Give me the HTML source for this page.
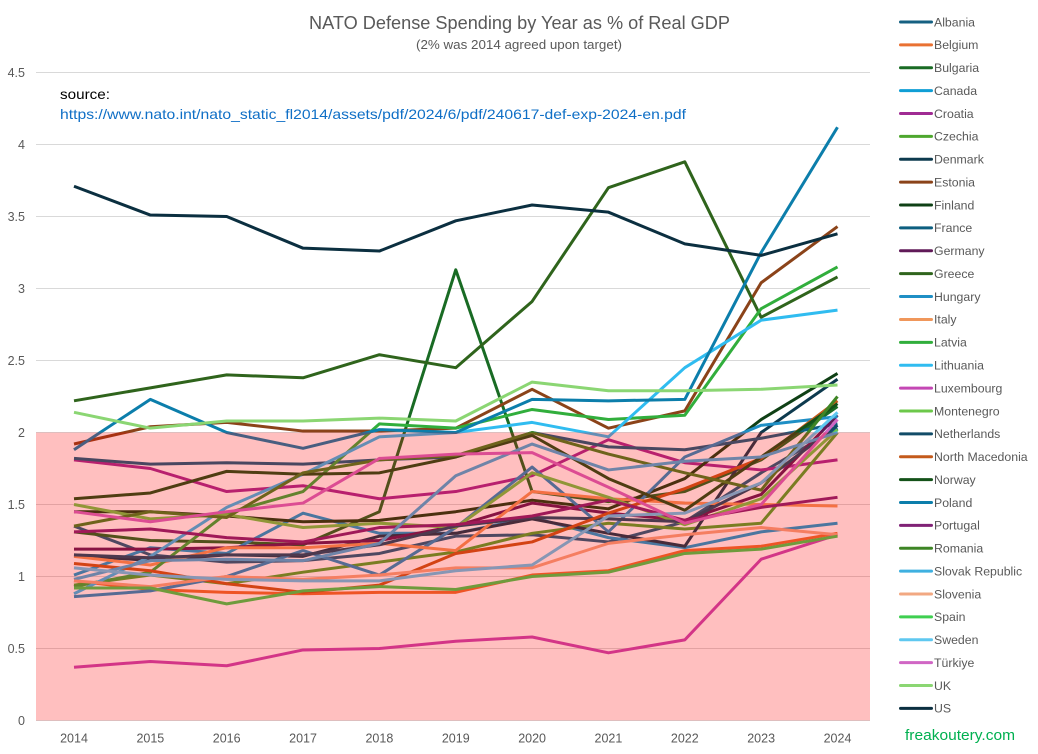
<!DOCTYPE html>
<html>
<head>
<meta charset="utf-8">
<title>NATO Defense Spending by Year</title>
<style>
html,body{margin:0;padding:0;background:#fff;}
svg{display:block;font-family:"Liberation Sans",sans-serif;}
</style>
</head>
<body>
<svg id="chart" width="1038" height="754" viewBox="0 0 1038 754" xmlns="http://www.w3.org/2000/svg">
  <rect x="0" y="0" width="1038" height="754" fill="#ffffff"/>
  <g id="grid"></g>
  <g id="lines"></g>
  <g id="band-layer"></g>
  <g id="ylabels"></g>
  <g id="xlabels"></g>
  <g id="legend"></g>
  <text x="519.5" y="29" text-anchor="middle" font-size="18" fill="#595959" textLength="421" lengthAdjust="spacingAndGlyphs">NATO Defense Spending by Year as % of Real GDP</text>
  <text x="519" y="49" text-anchor="middle" font-size="12.5" fill="#595959" textLength="206" lengthAdjust="spacingAndGlyphs">(2% was 2014 agreed upon target)</text>
  <text x="60" y="99" font-size="14" fill="#000000" textLength="50" lengthAdjust="spacingAndGlyphs">source:</text>
  <text x="60" y="119" font-size="14" fill="#0F6FC6" textLength="626" lengthAdjust="spacingAndGlyphs">https://www.nato.int/nato_static_fl2014/assets/pdf/2024/6/pdf/240617-def-exp-2024-en.pdf</text>
  <text x="905" y="740" font-size="14.5" fill="#00B050" textLength="110" lengthAdjust="spacingAndGlyphs">freakoutery.com</text>
</svg>
<script>
const years = [2014,2015,2016,2017,2018,2019,2020,2021,2022,2023,2024];
const yTicks = [0,0.5,1,1.5,2,2.5,3,3.5,4,4.5];
const targetLevel = [2];

const albania = [1.35,1.15,1.10,1.11,1.16,1.28,1.29,1.24,1.38,1.72,2.03];
const belgium = [0.97,0.91,0.89,0.88,0.89,0.89,1.01,1.04,1.18,1.21,1.30];
const bulgaria = [1.31,1.25,1.24,1.22,1.45,3.13,1.59,1.52,1.59,1.81,2.18];
const canada = [1.01,1.20,1.16,1.44,1.30,1.30,1.41,1.27,1.20,1.31,1.37];
const croatia = [1.81,1.75,1.59,1.63,1.54,1.59,1.70,1.95,1.79,1.74,1.81];
const czechia = [0.94,1.01,0.95,1.03,1.10,1.17,1.30,1.37,1.33,1.37,2.00];
const denmark = [1.15,1.11,1.15,1.14,1.28,1.30,1.40,1.30,1.21,2.00,2.37];
const estonia = [1.92,2.04,2.07,2.01,2.01,2.03,2.30,2.03,2.15,3.04,3.43];
const finland = [1.45,1.45,1.42,1.38,1.39,1.45,1.53,1.47,1.68,2.09,2.41];
const france = [1.82,1.78,1.79,1.78,1.81,1.83,2.00,1.90,1.88,1.96,2.06];
const germany = [1.19,1.19,1.20,1.23,1.25,1.35,1.51,1.44,1.39,1.57,2.12];
const greece = [2.22,2.31,2.40,2.38,2.54,2.45,2.91,3.70,3.88,2.80,3.08];
const hungary = [0.86,0.90,1.00,1.18,1.01,1.34,1.76,1.31,1.83,2.05,2.11];
const italy = [1.14,1.08,1.20,1.20,1.23,1.18,1.59,1.54,1.51,1.50,1.49];
const latvia = [0.93,1.03,1.44,1.59,2.06,2.03,2.16,2.09,2.12,2.86,3.15];
const lithuania = [0.88,1.14,1.48,1.71,1.97,2.00,2.07,1.97,2.45,2.78,2.85];
const luxembourg = [0.37,0.41,0.38,0.49,0.50,0.55,0.58,0.47,0.56,1.12,1.29];
const montenegro = [1.50,1.40,1.43,1.34,1.37,1.34,1.72,1.55,1.36,1.54,2.02];
const netherlands = [1.15,1.13,1.15,1.15,1.22,1.35,1.41,1.40,1.38,1.65,2.05];
const northMacedonia = [1.09,1.04,0.95,0.89,0.94,1.16,1.24,1.44,1.61,1.82,2.22];
const norway = [1.54,1.58,1.73,1.71,1.72,1.83,1.98,1.68,1.46,1.83,2.20];
const poland = [1.88,2.23,2.00,1.89,2.02,2.00,2.23,2.22,2.23,3.25,4.12];
const portugal = [1.31,1.33,1.27,1.24,1.34,1.36,1.42,1.53,1.39,1.48,1.55];
const romania = [1.35,1.45,1.41,1.72,1.81,1.84,2.00,1.85,1.72,1.60,2.25];
const slovakRepublic = [0.98,1.11,1.12,1.11,1.23,1.70,1.92,1.74,1.80,1.83,2.00];
const slovenia = [0.97,0.93,1.00,0.98,1.01,1.06,1.06,1.23,1.29,1.34,1.29];
const spain = [0.92,0.92,0.81,0.90,0.93,0.91,1.00,1.03,1.16,1.19,1.28];
const sweden = [1.06,1.01,0.98,0.97,0.97,1.04,1.08,1.42,1.44,1.65,2.14];
const turkiye = [1.45,1.38,1.45,1.51,1.82,1.85,1.86,1.62,1.37,1.50,2.09];
const uk = [2.14,2.03,2.08,2.08,2.10,2.08,2.35,2.29,2.29,2.30,2.33];
const us = [3.71,3.51,3.50,3.28,3.26,3.47,3.58,3.53,3.31,3.23,3.38];

const seriesNames = ["Albania","Belgium","Bulgaria","Canada","Croatia","Czechia","Denmark","Estonia","Finland","France","Germany","Greece","Hungary","Italy","Latvia","Lithuania","Luxembourg","Montenegro","Netherlands","North Macedonia","Norway","Poland","Portugal","Romania","Slovak Republic","Slovenia","Spain","Sweden","Türkiye","UK","US"];
const seriesValues = [albania,belgium,bulgaria,canada,croatia,czechia,denmark,estonia,finland,france,germany,greece,hungary,italy,latvia,lithuania,luxembourg,montenegro,netherlands,northMacedonia,norway,poland,portugal,romania,slovakRepublic,slovenia,spain,sweden,turkiye,uk,us];
const seriesColors = ["#156082","#E97132","#196B24","#0F9ED5","#A02B93","#4EA72E","#0D3A4E","#8B4319","#0F4015","#0D5F80","#601A58","#2F641C","#1F8FC5","#F0975B","#31AE3C","#30BCF0","#C447B4","#6CC84A","#124C68","#C45A1B","#145219","#0C7EAB","#802276","#3E8525","#3FB0E0","#F2A882","#3FCF50","#5FC8F0","#D066C4","#8BD673","#0B2F40"];

const NS = "http://www.w3.org/2000/svg";
const plotLeft = 36, plotRight = 870;
const xFirst = 74, xLast = 837.5;
const yZero = 720.5, yTop = 72.5, yMaxVal = 4.5;
function xScale(i){ return xFirst + (xLast - xFirst) * i / (years.length - 1); }
function yScale(v){ return yZero - (yZero - yTop) * v / yMaxVal; }
function make(tag, attrs){
  const el = document.createElementNS(NS, tag);
  for (const k in attrs) el.setAttribute(k, attrs[k]);
  return el;
}

const gridG = document.getElementById("grid");
const yG = document.getElementById("ylabels");
yTicks.forEach(function(t){
  const gl = make("line", {x1:plotLeft, x2:plotRight, y1:yScale(t), y2:yScale(t), stroke:"#D9D9D9", "stroke-width":1});
  
  
  gridG.appendChild(gl);
  const lb = make("text", {x:25, y:yScale(t)+4.5, "text-anchor":"end", "font-size":12.5, fill:"#595959"});
  
  
  lb.textContent = String(t);
  yG.appendChild(lb);
});

const xG = document.getElementById("xlabels");
years.forEach(function(y, i){
  const lb = make("text", {x:xScale(i), y:742.5, "text-anchor":"middle", "font-size":12.5, fill:"#595959"});
  
  
  lb.textContent = String(y);
  xG.appendChild(lb);
});

const lineG = document.getElementById("lines");
const legendG = document.getElementById("legend");
seriesNames.forEach(function(name, s){
  const pts = seriesValues[s].map(function(v, i){ return xScale(i).toFixed(2) + "," + yScale(v).toFixed(2); }).join(" ");
  const pl = make("polyline", {points:pts, fill:"none", stroke:seriesColors[s], "stroke-width":3, "stroke-linejoin":"round", "stroke-linecap":"butt"});
  
  
  lineG.appendChild(pl);

  const ly = 22 + s * 22.88;
  const sw = make("line", {x1:900.5, x2:931.5, y1:ly, y2:ly, stroke:seriesColors[s], "stroke-width":3, "stroke-linecap":"round"});
  
  
  legendG.appendChild(sw);
  const tx = make("text", {x:934, y:ly+4.3, "font-size":12.3, fill:"#595959"});
  
  
  tx.textContent = name;
  legendG.appendChild(tx);
});

const bandG = document.getElementById("band-layer");
const band = make("rect", {x:plotLeft, y:yScale(targetLevel[0]), width:plotRight-plotLeft, height:yZero-yScale(targetLevel[0]), fill:"#FF0000", "fill-opacity":0.25});


bandG.appendChild(band);
</script>
</body>
</html>
